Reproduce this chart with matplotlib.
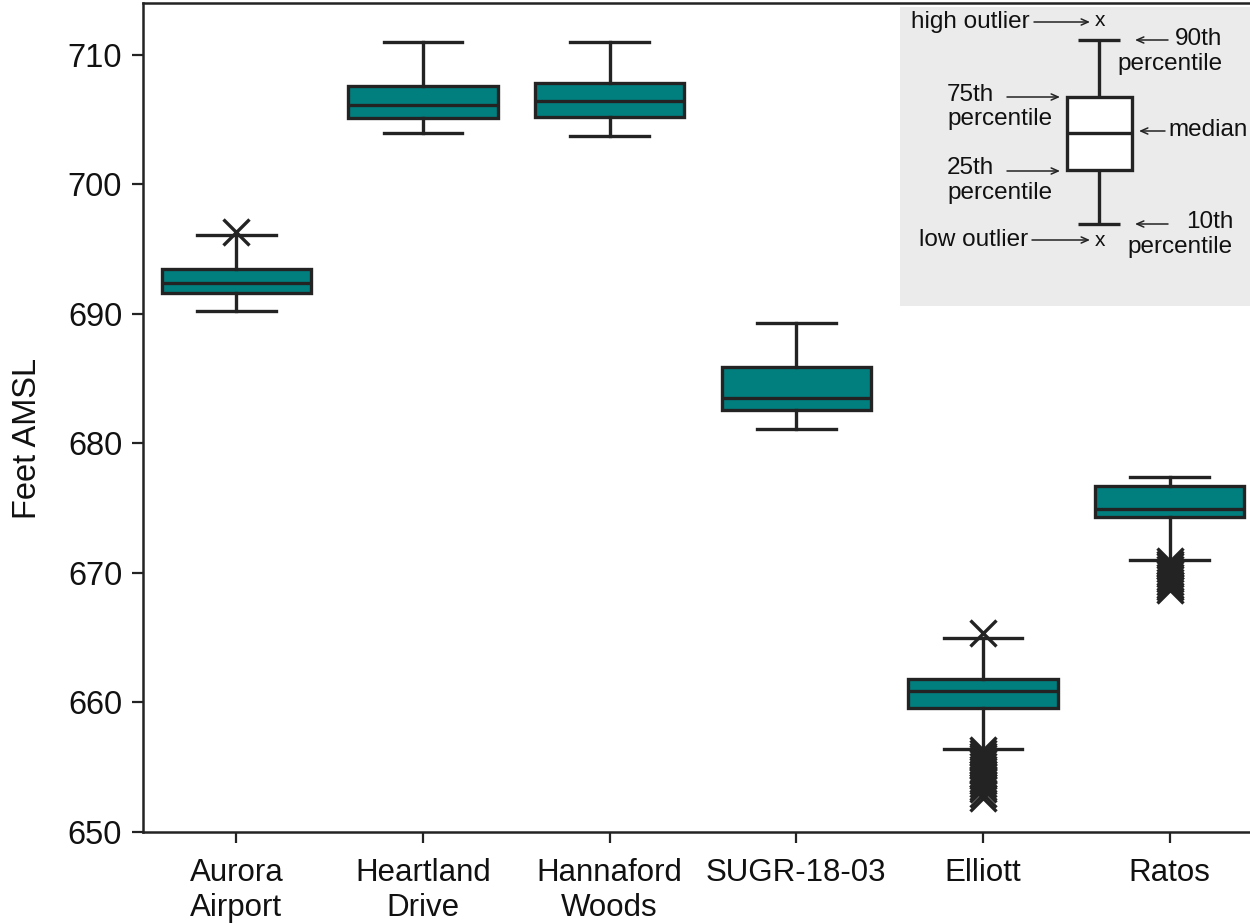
import matplotlib
matplotlib.use("Agg")
import matplotlib.pyplot as plt
from matplotlib.patches import Rectangle

plt.rcParams['font.family'] = ['Liberation Sans', 'DejaVu Sans']

# Water-level summary per site (feet above mean sea level)
sites = ["Aurora\nAirport", "Heartland\nDrive", "Hannaford\nWoods", "SUGR-18-03", "Elliott", "Ratos"]
p10 = [690.2, 704.0, 703.7, 681.1, 656.4, 671.0]
p25 = [691.6, 705.1, 705.2, 682.6, 659.6, 674.3]
median = [692.4, 706.1, 706.4, 683.5, 660.9, 674.9]
p75 = [693.5, 707.6, 707.8, 685.9, 661.8, 676.7]
p90 = [696.1, 711.0, 711.0, 689.3, 665.0, 677.4]
outliers = [
    [696.3],
    [],
    [],
    [],
    [665.4, 656.3, 656.1, 655.9, 655.7, 655.5, 655.3, 655.1, 654.9, 654.7,
     654.5, 654.3, 654.1, 653.9, 653.7, 653.5, 653.3, 652.9, 652.6],
    [670.9, 670.7, 670.5, 670.3, 670.1, 669.9, 669.7, 669.5, 669.3, 669.1,
     668.9, 668.7],
]
yticks = [650, 660, 670, 680, 690, 700, 710]

TEAL = "#017f7f"
INK = "#232323"
LW = 2.4

W, H = 1250, 924
fig = plt.figure(figsize=(W / 100, H / 100), dpi=100)
ax = fig.add_axes([143 / W, 92 / H, 1120 / W, 829 / H])

stats = [
    dict(med=m, q1=a, q3=b, whislo=lo, whishi=hi, fliers=f)
    for m, a, b, lo, hi, f in zip(median, p25, p75, p10, p90, outliers)
]
ax.bxp(
    stats,
    positions=range(len(sites)),
    widths=0.8,
    capwidths=0.42,
    patch_artist=True,
    boxprops=dict(facecolor=TEAL, edgecolor=INK, linewidth=LW),
    medianprops=dict(color=INK, linewidth=LW),
    whiskerprops=dict(color=INK, linewidth=LW),
    capprops=dict(color=INK, linewidth=LW),
    flierprops=dict(marker="x", markersize=19, markeredgecolor=INK,
                    markeredgewidth=2.4, linestyle="none"),
)

ax.set_xlim(-0.5, len(sites) - 0.5)
ax.set_ylim(650, 714.0)
ax.set_yticks(yticks)
ax.set_xticks(range(len(sites)))
ax.set_xticklabels(sites)
ax.tick_params(axis="both", length=8, width=1.6, color=INK, labelcolor="#111111")
ax.tick_params(axis="x", labelsize=22.5, pad=11)
ax.tick_params(axis="y", labelsize=23.5, pad=7)
for s in ax.spines.values():
    s.set_linewidth(1.8)
    s.set_color(INK)
ax.set_ylabel("Feet AMSL", fontsize=23.5, color="#111111")
ax.yaxis.set_label_coords((43 - 143) / 1120, (832 - 438) / 829)

# Key explaining the box elements, drawn in pixel space on an overlay
lg = fig.add_axes([0, 0, 1, 1])
lg.set_xlim(0, W)
lg.set_ylim(H, 0)
lg.axis("off")
lg.add_patch(Rectangle((900, 7), 360, 299, facecolor="#ebebeb", edgecolor="none"))

kw = dict(color=INK, linewidth=LW, solid_capstyle="butt")
lg.add_patch(Rectangle((1067, 97), 65, 73, facecolor="white", edgecolor=INK, linewidth=LW))
lg.plot([1067, 1132], [133, 133], **kw)
lg.plot([1099, 1099], [40, 97], **kw)
lg.plot([1099, 1099], [170, 224], **kw)
lg.plot([1078, 1120], [40, 40], **kw)
lg.plot([1078, 1120], [224, 224], **kw)

fs = 17.5
tc = "#111111"
arrow = dict(arrowstyle="->,head_length=0.5,head_width=0.22", lw=1.1, color=INK,
             shrinkA=0, shrinkB=0)


def pointer(x0, x1, y):
    lg.annotate("", xy=(x1, y), xytext=(x0, y), arrowprops=arrow)


lg.text(1030, 22, "high outlier", fontsize=fs, color=tc, ha="right", va="center")
pointer(1034, 1090, 22)
lg.text(1100, 21, "x", fontsize=15, color=tc, ha="center", va="center")

pointer(1168, 1135, 40)
lg.text(1175, 39, "90th", fontsize=fs, color=tc, ha="left", va="center")
lg.text(1223, 64, "percentile", fontsize=fs, color=tc, ha="right", va="center")

lg.text(947, 95, "75th", fontsize=fs, color=tc, ha="left", va="center")
pointer(1007, 1060, 97)
lg.text(947, 119, "percentile", fontsize=fs, color=tc, ha="left", va="center")

pointer(1165, 1139, 131)
lg.text(1168, 130, "median", fontsize=fs, color=tc, ha="left", va="center")

lg.text(947, 168, "25th", fontsize=fs, color=tc, ha="left", va="center")
pointer(1007, 1060, 171)
lg.text(947, 193, "percentile", fontsize=fs, color=tc, ha="left", va="center")

pointer(1168, 1135, 224)
lg.text(1233, 222, "10th", fontsize=fs, color=tc, ha="right", va="center")
lg.text(1233, 247, "percentile", fontsize=fs, color=tc, ha="right", va="center")

lg.text(1028, 240, "low outlier", fontsize=fs, color=tc, ha="right", va="center")
pointer(1032, 1090, 240)
lg.text(1100, 241, "x", fontsize=15, color=tc, ha="center", va="center")

fig.savefig("out.png", dpi=100)
